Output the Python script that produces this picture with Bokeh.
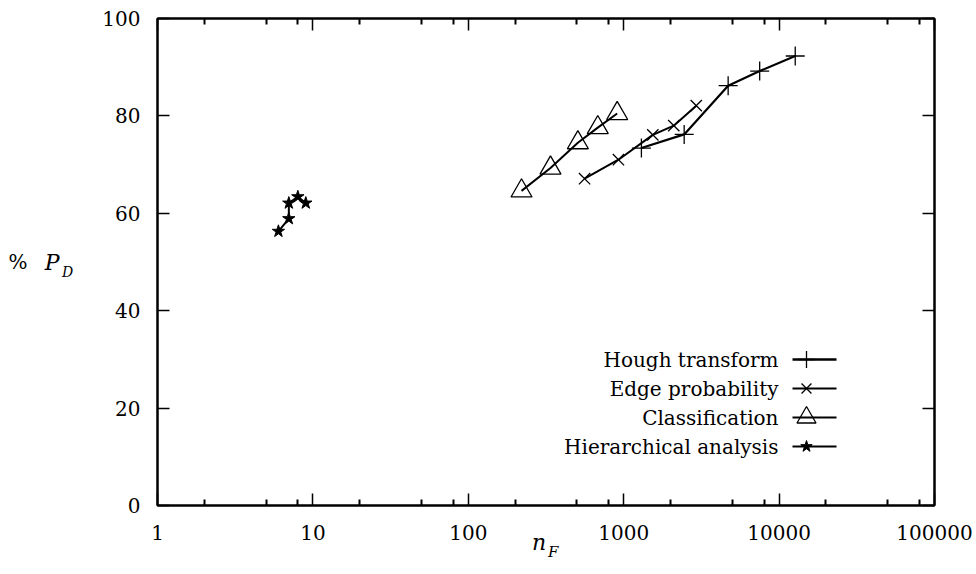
import math
from bokeh.plotting import figure
from bokeh.models import (LogAxis, LinearAxis, FixedTicker, Range1d,
                          NumeralTickFormatter)
from bokeh.embed import file_html
from bokeh.resources import INLINE
from bokeh.core.properties import value

# ---------------- data ----------------
hough_nf = [1300, 2450, 4700, 7500, 12700]
hough_pd = [73.4, 76.2, 86.2, 89.2, 92.3]

edge_nf = [560, 925, 1540, 2100, 2930]
edge_pd = [67.1, 71.0, 76.1, 78.0, 82.1]

class_nf = [220, 338, 507, 681, 908]
class_pd = [64.6, 69.3, 74.5, 77.6, 80.5]

hier_nf = [6, 7, 7, 8, 9]
hier_pd = [56.3, 58.9, 62.1, 63.4, 62.1]

series_names = ["Hough transform", "Edge probability", "Classification",
                "Hierarchical analysis"]

x_major = [1, 10, 100, 1000, 10000, 100000]
y_major = [0, 20, 40, 60, 80, 100]

# ---------------- layout / style ----------------
FONT = "DejaVu Serif"
FS = "20px"
NBSP = "\u00a0"
X0, X1 = 1, 100000
Y0, Y1 = 0, 100
FRAME_W, FRAME_H = 777, 487


def fx(px):
    """frame pixel offset (from left) -> data x on the log axis"""
    return 10 ** (math.log10(X0) + px / FRAME_W * (math.log10(X1) - math.log10(X0)))


def fy(py):
    """frame pixel offset (from bottom) -> data y"""
    return Y0 + py / FRAME_H * (Y1 - Y0)


p = figure(width=974, height=570, x_axis_type="log",
           x_range=Range1d(X0, X1), y_range=Range1d(Y0, Y1),
           output_backend="svg", toolbar_location=None,
           min_border_left=157, min_border_right=40,
           min_border_top=18, min_border_bottom=65)

p.xgrid.visible = False
p.ygrid.visible = False
p.outline_line_color = "black"
p.outline_line_width = 2
p.background_fill_color = "white"
p.border_fill_color = "white"

minor = [m * 10 ** k for k in range(5) for m in (2, 5, 8)]
xt = FixedTicker(ticks=x_major, minor_ticks=minor)
yt = FixedTicker(ticks=y_major, minor_ticks=[])


def style_axis(ax, labels=True):
    ax.axis_line_color = "black"
    ax.axis_line_width = 2
    ax.major_tick_in = 12
    ax.major_tick_out = 0
    ax.minor_tick_in = 6
    ax.minor_tick_out = 0
    ax.major_tick_line_color = "black"
    ax.major_tick_line_width = 1.5
    ax.minor_tick_line_color = "black"
    ax.minor_tick_line_width = 2
    if labels:
        ax.major_label_text_font = FONT
        ax.major_label_text_font_size = FS
        ax.major_label_text_color = "black"
    else:
        ax.major_label_text_font_size = "2px"
        ax.major_label_text_alpha = 0
        ax.major_label_standoff = 0


def label_axis(ax, text, size, style, standoff):
    """an axis that carries only a title text (no line, no ticks)"""
    ax.axis_line_color = None
    ax.major_tick_line_color = None
    ax.minor_tick_line_color = None
    ax.major_tick_in = 0
    ax.major_tick_out = 0
    ax.minor_tick_in = 0
    ax.minor_tick_out = 0
    ax.major_label_text_font_size = "2px"
    ax.major_label_text_alpha = 0
    ax.major_label_standoff = 0
    ax.axis_label = text
    ax.axis_label_text_font = FONT
    ax.axis_label_text_font_size = size
    ax.axis_label_text_font_style = style
    ax.axis_label_text_color = "black"
    ax.axis_label_standoff = standoff


xa = p.xaxis[0]
xa.ticker = xt
xa.formatter = NumeralTickFormatter(format="0")
style_axis(xa)
xa.major_label_standoff = 19
xa.axis_label = "n" + NBSP * 2
xa.axis_label_text_font = FONT
xa.axis_label_text_font_size = "22px"
xa.axis_label_text_font_style = "italic"
xa.axis_label_text_color = "black"
xa.axis_label_standoff = -13

xsub = LinearAxis(ticker=FixedTicker(ticks=[]))
label_axis(xsub, NBSP * 3 + "F", "15px", "italic", -15)
p.add_layout(xsub, "below")

ya = p.yaxis[0]
ya.ticker = yt
style_axis(ya)
ya.major_label_standoff = 17
ya.axis_label = "\nD"
ya.axis_label_orientation = "horizontal"
ya.axis_label_text_font = FONT
ya.axis_label_text_font_size = "14px"
ya.axis_label_text_font_style = "italic"
ya.axis_label_text_color = "black"
ya.axis_label_standoff = 26

ylab_p = LinearAxis(ticker=FixedTicker(ticks=[]))
label_axis(ylab_p, "P", "22px", "italic", 0)
ylab_p.axis_label_orientation = "horizontal"
p.add_layout(ylab_p, "left")

ylab_pct = LinearAxis(ticker=FixedTicker(ticks=[]))
label_axis(ylab_pct, "%", "20px", "normal", 14)
ylab_pct.axis_label_orientation = "horizontal"
p.add_layout(ylab_pct, "left")

top = LogAxis(ticker=FixedTicker(ticks=x_major, minor_ticks=minor))
style_axis(top, labels=False)
p.add_layout(top, "above")

right = LinearAxis(ticker=FixedTicker(ticks=y_major, minor_ticks=[]))
style_axis(right, labels=False)
p.add_layout(right, "right")

# ---------------- series ----------------
p.line(hough_nf, hough_pd, line_color="black", line_width=2.2)
p.scatter(hough_nf, hough_pd, marker="cross", size=19, line_color="black",
          line_width=1.3)

p.line(edge_nf, edge_pd, line_color="black", line_width=2)
p.scatter(edge_nf, edge_pd, marker="x", size=16, line_color="black",
          line_width=1.3)

p.line(class_nf, class_pd, line_color="black", line_width=2)
p.scatter(class_nf, class_pd, marker="triangle", size=21, line_color="black",
          fill_color=None, line_width=1.3)

p.line(hier_nf, hier_pd, line_color="black", line_width=2)
p.scatter(hier_nf, hier_pd, marker="star", size=13, line_color="black",
          fill_color="black", line_width=1)

# ---------------- legend (text right, sample on the right) ----------------
leg_rows = [fy(146), fy(117), fy(88), fy(59)]
txt_x = fx(621)
seg_x0, seg_x1 = fx(635), fx(679)
mk_x = fx(649)
p.text(x=[txt_x] * 4, y=leg_rows, text=series_names, text_align="right",
       text_baseline="middle", text_font=value(FONT), text_font_size=FS,
       text_color="black")
p.segment(x0=[seg_x0] * 4, y0=leg_rows, x1=[seg_x1] * 4, y1=leg_rows,
          line_color="black", line_width=[2.6, 2, 2, 2])
p.scatter([mk_x], [leg_rows[0]], marker="cross", size=17, line_color="black",
          line_width=1.3)
p.scatter([mk_x], [leg_rows[1]], marker="x", size=14, line_color="black",
          line_width=1.3)
p.scatter([mk_x], [leg_rows[2]], marker="triangle", size=19,
          line_color="black", fill_color=None, line_width=1.3)
p.scatter([mk_x], [leg_rows[3]], marker="star", size=12, line_color="black",
          fill_color="black")

open("out.html", "w").write(file_html(p, INLINE))
